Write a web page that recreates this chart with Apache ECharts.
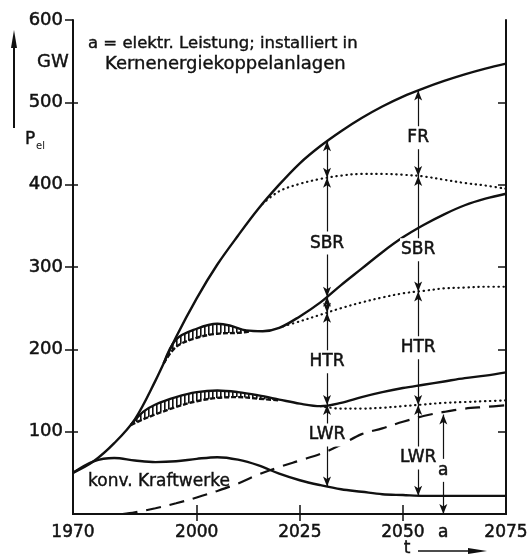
<!DOCTYPE html>
<html>
<head>
<meta charset="utf-8">
<script src="https://cdn.jsdelivr.net/npm/echarts@6/dist/echarts.min.js"></script>
<style>
html, body { margin: 0; padding: 0; background: #fff; }
#chart { width: 527px; height: 557px; }
</style>
</head>
<body>
<div id="chart"></div>
<script>
// Gesamtleistung (obere Kurve)
var totalYears = [1970, 1975, 1980, 1985, 1990, 1995, 2000, 2005, 2010, 2015, 2020, 2025, 2030, 2035, 2040, 2045, 2050, 2055, 2060, 2065, 2070, 2075];
var totalVals  = [50, 64, 86, 115, 162, 215, 262, 303, 338, 371, 400, 426, 447, 465, 481, 495, 507, 517, 526, 534, 541, 547];
// FR / SBR Grenze (punktiert)
var frYears = [2016, 2020, 2025, 2030, 2035, 2040, 2045, 2050, 2055, 2060, 2065, 2070, 2075];
var frVals  = [377, 392, 401, 407, 411, 413, 413, 412, 410, 406, 402, 399, 395];
// SBR / HTR Grenze (durchgezogen)
var sbrYears = [1992, 1995, 2000, 2005, 2008, 2012, 2016, 2020, 2025, 2030, 2035, 2040, 2045, 2050, 2055, 2060, 2065, 2070, 2075];
var sbrVals  = [183, 212, 225, 231, 229, 223, 222, 226, 240, 257, 278, 298, 318, 336, 351, 364, 375, 383, 389];
// SBR / HTR Grenze (punktiert)
var sbrDotYears = [2021, 2025, 2030, 2035, 2040, 2045, 2050, 2055, 2060, 2065, 2070, 2075];
var sbrDotVals  = [228, 234, 242, 250, 257, 263, 268, 271, 274, 275, 276, 276];
// HTR / LWR Grenze (durchgezogen)
var htrYears = [1984, 1987, 1990, 1995, 2000, 2005, 2010, 2015, 2020, 2025, 2030, 2035, 2040, 2045, 2050, 2055, 2060, 2065, 2070, 2075];
var htrVals  = [108, 124, 133, 142, 148, 150, 148, 144, 139, 134, 131, 135, 142, 148, 153, 157, 161, 165, 168, 172];
// HTR / LWR Grenze (punktiert)
var htrDotYears = [2030, 2035, 2040, 2045, 2050, 2055, 2060, 2065, 2070, 2075];
var htrDotVals  = [131, 128, 128, 129, 131, 133, 135, 136, 137, 138];
// konventionelle Kraftwerke
var konvYears = [1970, 1975, 1980, 1985, 1990, 1995, 2000, 2005, 2010, 2015, 2020, 2025, 2030, 2035, 2040, 2045, 2050, 2055, 2060, 2065, 2070, 2075];
var konvVals  = [50, 64, 68, 65, 63, 64, 67, 69, 66, 59, 49, 41, 35, 30, 27, 24, 23, 22, 22, 22, 22, 22];
// a: Kernenergiekoppelanlagen (gestrichelt)
var kopYears = [1982, 1985, 1990, 1995, 2000, 2005, 2010, 2015, 2020, 2025, 2030, 2035, 2040, 2045, 2050, 2055, 2060, 2065, 2070, 2075];
var kopVals  = [0, 2, 7, 13, 20, 28, 37, 48, 57, 65, 73, 84, 97, 104, 112, 119, 124, 128, 130, 132];
// schraffierte Baender
var sbrBandYears = [1992, 1995, 2000, 2005, 2010, 2013];
var sbrBandLow   = [183, 203, 214, 219, 220, 222];
var sbrBandHigh  = [183, 212, 225, 231, 226, 223];
var htrBandYears = [1984, 1987, 1990, 1995, 2000, 2005, 2010, 2015, 2020];
var htrBandLow   = [108, 115, 121, 130, 137, 141, 142, 140, 138];
var htrBandHigh  = [108, 124, 133, 142, 148, 150, 148, 144, 139];

// Beschriftungen im Diagramm
var labelPts = [
    [2031.6, 329, 'SBR'], [2031.6, 185, 'HTR'], [2031.6, 96, 'LWR'],
    [2053.7, 457, 'FR'], [2053.7, 321, 'SBR'], [2053.7, 202, 'HTR'], [2053.7, 68, 'LWR'],
    [2059.8, 53, 'a']
];
var cut1 = 2031.6, cut2 = 2053.7, cutA = 2059.8;

var xLabels = [1970, 2000, 2025, 2050, 2075, cutA];
var xTicks = [2000, 2025, 2050];
var yLabels = [100, 200, 300, 400, 500, 600];
var yTicksRight = [100, 200, 300, 400, 500];

var ink = '#111';
var font = 'DejaVu Sans';

function pairs(xs, ys) {
    return xs.map(function (x, i) { return [x, ys[i]]; });
}
function valAt(xs, ys, x) {
    for (var i = 0; i < xs.length - 1; i++) {
        if (x >= xs[i] && x <= xs[i + 1]) {
            var t = (x - xs[i]) / (xs[i + 1] - xs[i]);
            return ys[i] + t * (ys[i + 1] - ys[i]);
        }
    }
    return ys[ys.length - 1];
}
function arrows(x, levels) {
    var out = [];
    for (var i = 0; i < levels.length - 1; i++) {
        out.push([{ coord: [x, levels[i]] }, { coord: [x, levels[i + 1]] }]);
    }
    return out;
}

var cutLines = []
    .concat(arrows(cut1, [
        valAt(totalYears, totalVals, cut1), valAt(frYears, frVals, cut1),
        valAt(sbrYears, sbrVals, cut1), valAt(sbrDotYears, sbrDotVals, cut1),
        valAt(htrYears, htrVals, cut1), valAt(konvYears, konvVals, cut1)]))
    .concat(arrows(cut2, [
        valAt(totalYears, totalVals, cut2), valAt(frYears, frVals, cut2),
        valAt(sbrDotYears, sbrDotVals, cut2), valAt(htrDotYears, htrDotVals, cut2),
        valAt(konvYears, konvVals, cut2)]))
    .concat(arrows(cutA, [valAt(kopYears, kopVals, cutA) - 3, 0]));

// Schraffur
var hatch = document.createElement('canvas');
hatch.width = 4; hatch.height = 4;
var hctx = hatch.getContext('2d');
hctx.fillStyle = ink;
hctx.fillRect(0, 0, 1.6, 4);

function bandItem(xs, lo, hi) {
    return function (params, api) {
        var pts = [];
        for (var i = 0; i < xs.length; i++) pts.push(api.coord([xs[i], hi[i]]));
        for (var j = xs.length - 1; j >= 0; j--) pts.push(api.coord([xs[j], lo[j]]));
        return {
            type: 'polygon',
            shape: { points: pts, smooth: 0.2 },
            style: { fill: { image: hatch, repeat: 'repeat' }, stroke: 'none' }
        };
    };
}

function lineSeries(xs, ys, style) {
    return {
        type: 'line',
        data: pairs(xs, ys),
        smooth: 0.35,
        showSymbol: false,
        symbol: 'none',
        silent: true,
        lineStyle: Object.assign({ color: ink, width: 2.4 }, style || {}),
        z: 3
    };
}
var dotted = { width: 2.2, type: [0.4, 4.6], cap: 'round' };

var myChart = echarts.init(document.getElementById('chart'), null, { renderer: 'canvas' });

var axisX = { type: 'value', min: 1970, max: 2075, splitLine: { show: false } };
var axisY = { type: 'value', min: 0, max: 600, interval: 100, splitLine: { show: false } };
var heavy = { textBorderColor: ink, textBorderWidth: 0.5 };

var option = {
    animation: false,
    grid: { left: 73, right: 21, top: 20, bottom: 43, outerBoundsMode: 'none', containLabel: false },
    xAxis: [
        Object.assign({}, axisX, {
            position: 'bottom',
            axisLine: { show: true, lineStyle: { color: ink, width: 2 } },
            axisTick: { show: true, inside: true, length: 9, customValues: xTicks, lineStyle: { color: ink, width: 1.5 } },
            axisLabel: Object.assign({
                customValues: xLabels, margin: 10, color: ink, fontSize: 17, fontFamily: font,
                formatter: function (v) { return v === cutA ? 'a' : String(v); }
            }, heavy)
        }),
        Object.assign({}, axisX, {
            position: 'bottom',
            axisLine: { show: false },
            axisTick: { show: true, inside: false, length: 5, customValues: xTicks, lineStyle: { color: ink, width: 1.5 } },
            axisLabel: { show: false }
        }),
        Object.assign({}, axisX, {
            position: 'top',
            axisLine: { show: true, lineStyle: { color: ink, width: 2 } },
            axisTick: { show: true, inside: true, length: 7, customValues: xTicks, lineStyle: { color: ink, width: 1.5 } },
            axisLabel: { show: false }
        })
    ],
    yAxis: [
        Object.assign({}, axisY, {
            position: 'left',
            axisLine: { show: true, lineStyle: { color: ink, width: 2 } },
            axisTick: { show: true, inside: false, length: 8, customValues: yLabels, lineStyle: { color: ink, width: 1.5 } },
            axisLabel: Object.assign({ customValues: yLabels, margin: 10, color: ink, fontSize: 18, fontFamily: font }, heavy)
        }),
        Object.assign({}, axisY, {
            position: 'left',
            axisLine: { show: false },
            axisTick: { show: true, inside: true, length: 5, customValues: yTicksRight, lineStyle: { color: ink, width: 1.5 } },
            axisLabel: { show: false }
        }),
        Object.assign({}, axisY, {
            position: 'right',
            axisLine: { show: true, lineStyle: { color: ink, width: 2 } },
            axisTick: { show: true, inside: true, length: 8, customValues: yTicksRight, lineStyle: { color: ink, width: 1.5 } },
            axisLabel: { show: false }
        })
    ],
    series: [
        lineSeries(totalYears, totalVals),
        lineSeries(frYears, frVals, dotted),
        lineSeries(sbrYears, sbrVals),
        lineSeries(sbrDotYears, sbrDotVals, dotted),
        lineSeries(htrYears, htrVals),
        lineSeries(htrDotYears, htrDotVals, dotted),
        lineSeries(konvYears, konvVals),
        lineSeries(kopYears, kopVals, { width: 2.2, type: [15, 9] }),
        lineSeries(sbrBandYears, sbrBandLow, { width: 2.4, type: [5, 2] }),
        lineSeries(htrBandYears, htrBandLow, { width: 2.4, type: [5, 2] }),
        { type: 'custom', data: [0], silent: true, renderItem: bandItem(sbrBandYears, sbrBandLow, sbrBandHigh), z: 2 },
        { type: 'custom', data: [0], silent: true, renderItem: bandItem(htrBandYears, htrBandLow, htrBandHigh), z: 2 },
        {
            type: 'scatter',
            data: labelPts,
            symbolSize: 1,
            silent: true,
            itemStyle: { color: '#fff', opacity: 1 },
            z: 5,
            label: Object.assign({
                show: true,
                position: 'inside',
                formatter: function (p) { return p.data[2]; },
                color: ink, fontSize: 17, fontFamily: font,
                backgroundColor: '#fff', padding: [3, 1]
            }, heavy),
            markLine: {
                silent: true,
                symbol: ['arrow', 'arrow'],
                symbolSize: [6, 10],
                label: { show: false },
                lineStyle: { color: ink, width: 1.2, type: 'solid', opacity: 1 },
                data: cutLines,
                z: 4
            }
        }
    ],
    graphic: [
        { type: 'text', x: 88, y: 44, style: { text: 'a = elektr. Leistung; installiert in', font: '16.5px "DejaVu Sans"', fill: ink, stroke: ink, lineWidth: 0.4, verticalAlign: 'middle' } },
        { type: 'text', x: 105, y: 64, style: { text: 'Kernenergiekoppelanlagen', font: '18px "DejaVu Sans"', fill: ink, stroke: ink, lineWidth: 0.4, verticalAlign: 'middle' } },
        { type: 'text', x: 88, y: 482, z: 10, style: { text: 'konv. Kraftwerke', font: '17px "DejaVu Sans"', fill: ink, stroke: ink, lineWidth: 0.4, verticalAlign: 'middle' } },
        { type: 'text', x: 37, y: 62, style: { text: 'GW', font: '18px "DejaVu Sans"', fill: ink, stroke: ink, lineWidth: 0.4, verticalAlign: 'middle' } },
        { type: 'text', x: 25, y: 140, style: { text: 'P', font: '17px "DejaVu Sans"', fill: ink, stroke: ink, lineWidth: 0.4, verticalAlign: 'middle' } },
        { type: 'text', x: 36, y: 146, style: { text: 'el', font: '10px "DejaVu Sans"', fill: ink, verticalAlign: 'middle' } },
        { type: 'line', shape: { x1: 14, y1: 128, x2: 14, y2: 44 }, style: { stroke: ink, lineWidth: 2 } },
        { type: 'polygon', shape: { points: [[11, 48], [14, 30], [17, 48]] }, style: { fill: ink } },
        { type: 'text', x: 407, y: 549, style: { text: 't', font: '17px "DejaVu Sans"', fill: ink, stroke: ink, lineWidth: 0.4, align: 'center', verticalAlign: 'middle' } },
        { type: 'line', shape: { x1: 418, y1: 551, x2: 474, y2: 551 }, style: { stroke: ink, lineWidth: 1.5 } },
        { type: 'polygon', shape: { points: [[468, 548], [487, 551], [468, 554]] }, style: { fill: ink } }
    ]
};
myChart.setOption(option);
window.onresize = function () { myChart.resize(); };
</script>
</body>
</html>
